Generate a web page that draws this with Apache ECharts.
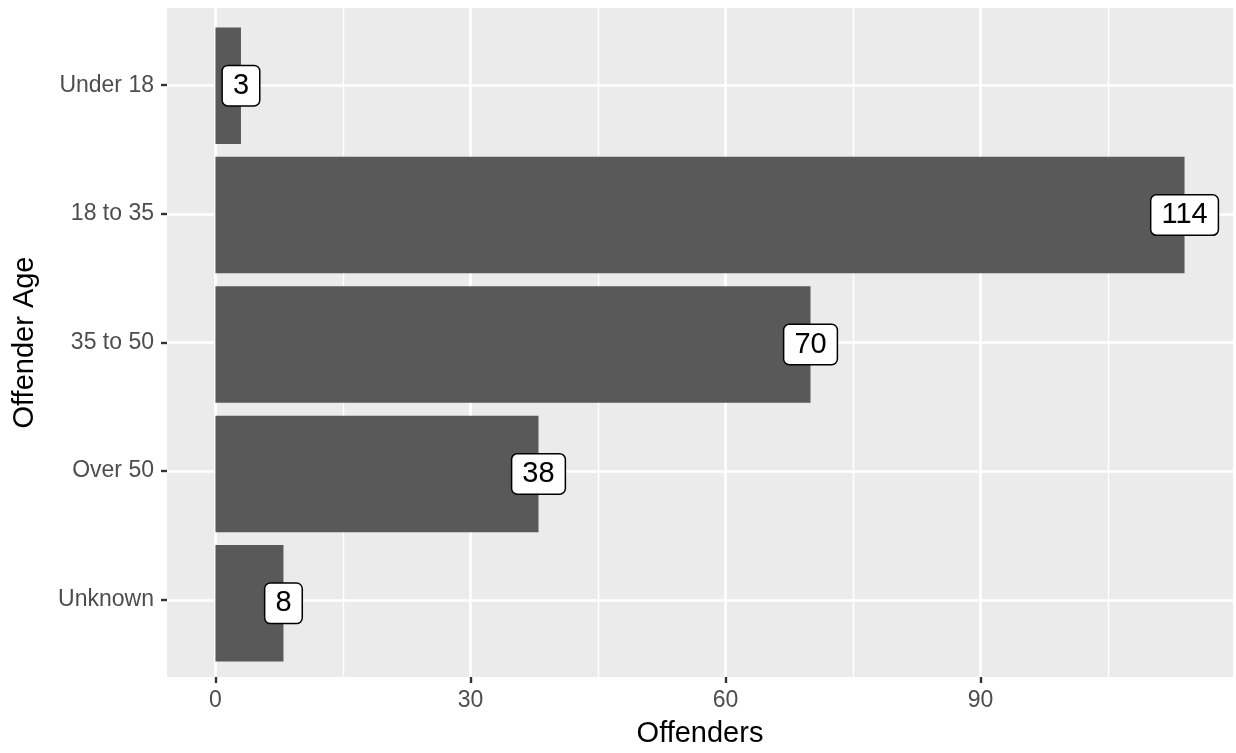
<!DOCTYPE html>
<html><head><meta charset="utf-8">
<script src="https://cdn.jsdelivr.net/npm/echarts@6/dist/echarts.min.js"></script>
<style>html,body{margin:0;padding:0;background:#fff}#c{width:1236px;height:753px}</style>
</head><body><div id="c"></div>
<script>
const categories = ['Under 18', '18 to 35', '35 to 50', 'Over 50', 'Unknown'];
const offenders = [3, 114, 70, 38, 8];
const xTicks = [0, 30, 60, 90];
const xMinorTicks = [15, 45, 75, 105];
const xTitle = 'Offenders';
const yTitle = 'Offender Age';

const FONT = '"Liberation Sans", Arial, Helvetica, sans-serif';
const maxVal = Math.max.apply(null, offenders);
const xMin = -0.05 * maxVal, xMax = maxVal * 1.05;
const W = 1236, Hh = 753;
const panel = { left: 167, right: 3, top: 8, bottom: 72 };
const panelH = Hh - panel.top - panel.bottom;
const n = categories.length;
const expand = 0.6;
const unit = panelH / (n - 1 + 2 * expand);
const barGridTop = panel.top + unit * (expand - 0.5);
const barGridH = unit * n;
const catPos = categories.map((c, i) => i);

const chart = echarts.init(document.getElementById('c'), null, { renderer: 'canvas' });
chart.setOption({
  backgroundColor: '#ffffff',
  animation: false,
  textStyle: { fontFamily: FONT },
  grid: [
    { left: panel.left, right: panel.right, top: panel.top, bottom: panel.bottom, show: true, backgroundColor: '#EBEBEB', borderWidth: 0, containLabel: false },
    { left: panel.left, right: panel.right, top: barGridTop, height: barGridH, show: false, containLabel: false }
  ],
  xAxis: [
    {
      gridIndex: 0, type: 'value', min: xMin, max: xMax, position: 'bottom',
      axisLine: { show: false, onZero: false },
      axisTick: { show: true, length: 6, customValues: xTicks, lineStyle: { color: '#333333', width: 2.4 } },
      axisLabel: { customValues: xTicks, color: '#4D4D4D', fontSize: 23, margin: 12, fontFamily: FONT },
      splitLine: { show: true, lineStyle: { color: '#FFFFFF', width: 2.7 } },
      name: xTitle, nameLocation: 'middle', nameGap: 42,
      nameTextStyle: { color: '#000000', fontSize: 29, fontFamily: FONT }
    },
    {
      gridIndex: 0, type: 'value', min: xMin, max: xMax, position: 'top',
      axisLine: { show: false, onZero: false },
      axisTick: { show: false, customValues: xMinorTicks },
      axisLabel: { show: false, customValues: xMinorTicks },
      splitLine: { show: true, lineStyle: { color: '#FFFFFF', width: 1.4 } }
    },
    {
      gridIndex: 1, type: 'value', min: xMin, max: xMax, show: false,
      axisLine: { onZero: false },
      splitLine: { show: false }
    }
  ],
  yAxis: [
    {
      gridIndex: 0, type: 'value', min: -expand, max: n - 1 + expand, inverse: true,
      axisLine: { show: false, onZero: false },
      axisTick: { show: true, length: 6, customValues: catPos, lineStyle: { color: '#333333', width: 2.4 } },
      axisLabel: { customValues: catPos, formatter: v => categories[Math.round(v)], color: '#4D4D4D', fontSize: 23, margin: 13, padding: [0, 0, 4, 0], fontFamily: FONT },
      splitLine: { show: true, lineStyle: { color: '#FFFFFF', width: 2.7 } },
      name: yTitle, nameLocation: 'middle', nameGap: 128, nameRotate: 90,
      nameTextStyle: { color: '#000000', fontSize: 29, fontFamily: FONT }
    },
    {
      gridIndex: 1, type: 'category', data: categories, inverse: true, show: false,
      axisLine: { onZero: false }
    }
  ],
  series: [{
    type: 'bar', xAxisIndex: 2, yAxisIndex: 1,
    data: offenders,
    barCategoryGap: '10%',
    itemStyle: { color: '#595959' },
    label: {
      show: true, position: ['100%', '50%'], align: 'center', verticalAlign: 'middle',
      formatter: p => String(p.value),
      color: '#000000', fontSize: 29, fontFamily: FONT,
      backgroundColor: '#FFFFFF', borderColor: '#000000', borderWidth: 1.5, borderRadius: 5,
      padding: [5, 10, 5, 10]
    }
  }]
});
</script></body></html>
